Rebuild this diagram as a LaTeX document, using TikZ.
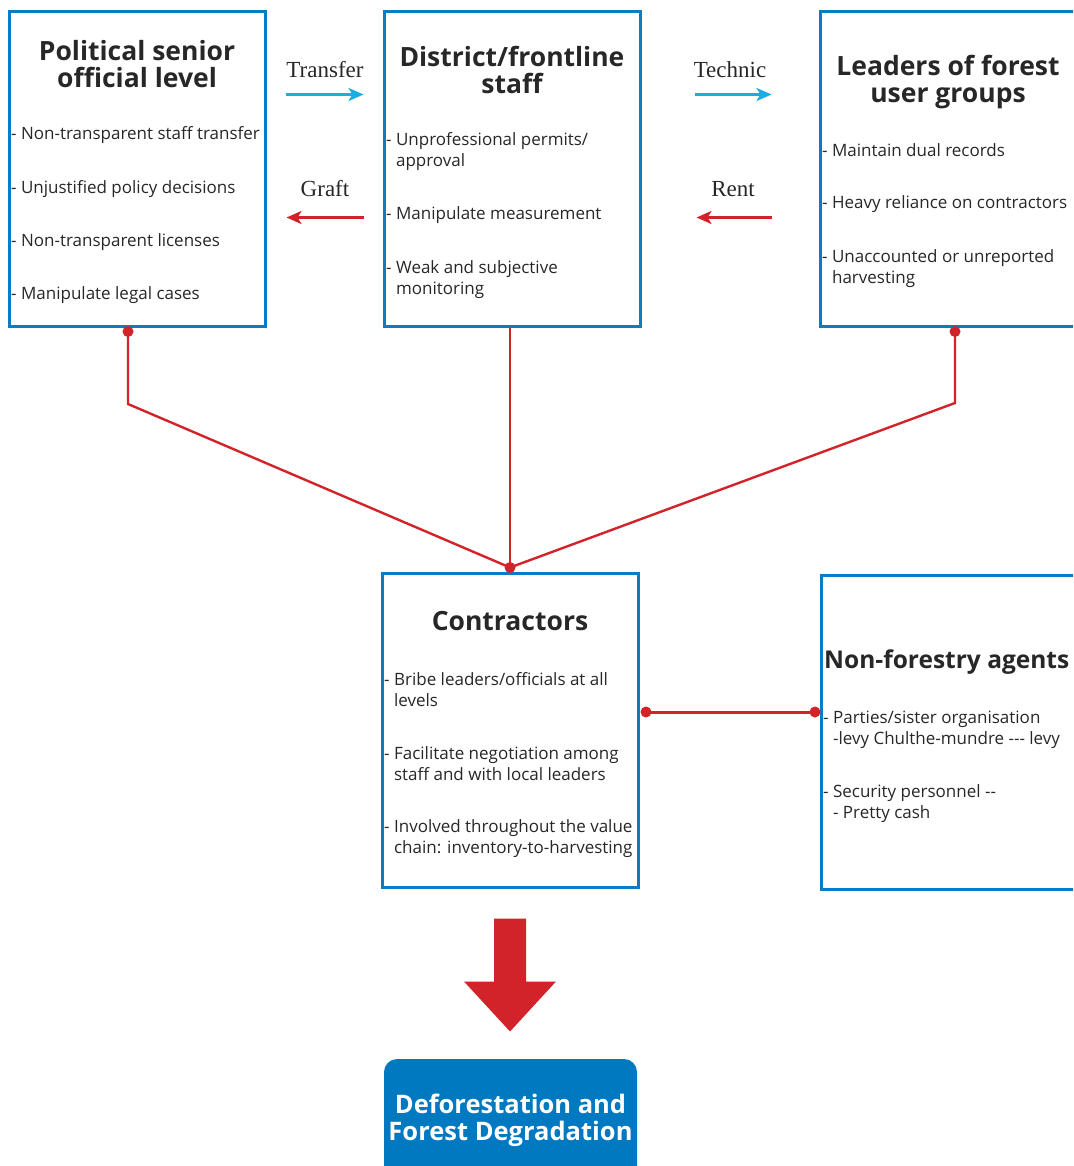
\documentclass[tikz,border=0pt]{standalone}
\usepackage{fontspec}
\setmainfont{Liberation Serif}
\newfontfamily\boxfont{Open Sans}
\usetikzlibrary{arrows.meta,calc}
\definecolor{boxblue}{RGB}{8,124,196}
\definecolor{flowcyan}{RGB}{28,172,228}
\definecolor{linkred}{RGB}{210,35,42}
\definecolor{inkgray}{RGB}{40,38,40}
\definecolor{outblue}{RGB}{0,121,193}
\newcommand{\headsize}{\fontsize{26.5}{27}\selectfont}
\newcommand{\itemsize}{\fontsize{17}{21}\selectfont}
\newcommand{\nxt}{\\\phantom{- }}
\tikzset{
  box/.style={draw=boxblue,line width=3pt,minimum width=256pt,minimum height=314pt,inner sep=0},
  head/.style={font=\boxfont\bfseries\headsize,text=inkgray,align=center,inner sep=0},
  itm/.style={font=\boxfont\itemsize,text=inkgray,align=left,anchor=west,inner sep=0},
  lbl/.style={font=\fontsize{23}{25}\selectfont,text=inkgray,inner sep=0},
  link/.style={linkred,line width=2.4pt},
  knob/.style={circle,fill=linkred,inner sep=0,minimum size=11pt},
  flowup/.style={flowcyan,line width=3pt,-{Stealth[length=15pt,width=13pt,inset=4pt]}},
  flowdown/.style={linkred,line width=3pt,-{Stealth[length=15pt,width=13pt,inset=4pt]}}
}

\begin{document}
\begin{tikzpicture}[x=1pt,y=-1pt]
  \useasboundingbox (0,0) rectangle (1073,1166);
  \clip (0,0) rectangle (1073,1166);
  % the five boxes
  \node[box] (pol) at (137,169) {};
  \node[box] (dist) at (512,169) {};
  \node[box] (lead) at (948,169) {};
  \node[box] (con) at (510,730) {};
  \node[box] (non) at (949,732.5) {};
  \node[head] (polh) at (137,64.5) {Political senior\\official level};
  \node[head] (disth) at (512,70) {District/frontline\\staff};
  \node[head] (leadh) at (948,82) {Leaders of forest\\user groups};
  \node[head] (conh) at (510,621) {Contractors};
  \node[head,anchor=west,font=\boxfont\bfseries\fontsize{24.5}{27}\selectfont] (nonh) at (824,662) {Non-forestry agents};
  % items
  \node[itm] (pol1) at (11,135) {- Non-transparent staff transfer};
  \node[itm] (pol2) at (11,189) {- Unjustified policy decisions};
  \node[itm] (pol3) at (11,242) {- Non-transparent licenses};
  \node[itm] (pol4) at (11,295) {- Manipulate legal cases};
  \node[itm] (dist1) at (386,151.5) {- Unprofessional permits/\nxt approval};
  \node[itm] (dist2) at (386,215) {- Manipulate measurement};
  \node[itm] (dist3) at (386,279.5) {- Weak and subjective\nxt monitoring};
  \node[itm] (lead1) at (822,150) {- Maintain dual records};
  \node[itm] (lead2) at (822,204) {- Heavy reliance on contractors};
  \node[itm] (lead3) at (822,268.5) {- Unaccounted or unreported\nxt harvesting};
  \node[itm] (con1) at (384,689.5) {- Bribe leaders/officials at all\nxt levels};
  \node[itm] (con2) at (384,763.5) {- Facilitate negotiation among\nxt staff and with local leaders};
  \node[itm] (con3) at (384,838.5) {- Involved throughout the value\nxt chain: inventory-to-harvesting};
  \node[itm] (non1) at (823,729.5) {- Parties/sister organisation\nxt -levy Chulthe-mundre --- levy};
  \node[itm] (non2) at (823,804) {- Security personnel --\nxt - Pretty cash};
  % flows between the top boxes
  \node[lbl] (trl) at (325,70) {Transfer};
  \node[lbl] (grl) at (325,189) {Graft};
  \node[lbl] (tel) at (730,70) {Technic};
  \node[lbl] (rel) at (733,189) {Rent};
  \draw[flowup] ($(pol.north east)+(19,84)$) -- ($(dist.north west)+(-19,84)$);
  \draw[flowdown] ($(dist.north west)+(-19,207)$) -- ($(pol.north east)+(20,207)$);
  \draw[flowup] ($(dist.north east)+(53,84)$) -- ($(lead.north west)+(-47,84)$);
  \draw[flowdown] ($(lead.north west)+(-47,207)$) -- ($(dist.north east)+(55,207)$);
  % red links down to the contractors
  \coordinate (j1) at (128,404);
  \coordinate (j3) at (955,403);
  \coordinate (jc) at ($(con.north)+(0,-4)$);
  \node[knob] (k1) at ($(pol.south -| j1)+(0,4)$) {};
  \node[knob] (k3) at ($(lead.south -| j3)+(0,4)$) {};
  \node[knob] (kc) at (jc) {};
  \draw[link] (k1.center) -- (j1) -- (jc);
  \draw[link] (k3.center) -- (j3) -- (jc);
  \draw[link] (dist.south -| jc) -- (jc);
  \node[knob] (k4) at (646,712) {};
  \node[knob] (k5) at (815,712) {};
  \draw[link,line width=3pt] (k4.center) -- (k5.center);
  % big arrow and result
  \fill[linkred] ($(con.south)+(-16,30)$) -- ++(32,0) -- ++(0,63) -- ++(30,0)
    -- ++(-46,50) -- ++(-46,-50) -- ++(30,0) -- cycle;
  \node[fill=outblue,rounded corners=13pt,minimum width=253pt,minimum height=124pt,
    inner sep=0] (res) at (510.5,1121) {};
  \node[font=\boxfont\bfseries\fontsize{25.5}{27}\selectfont,text=white,align=center,inner sep=0] (resl) at (510.5,1120)
    {Deforestation and\\Forest Degradation};
\end{tikzpicture}
\end{document}
